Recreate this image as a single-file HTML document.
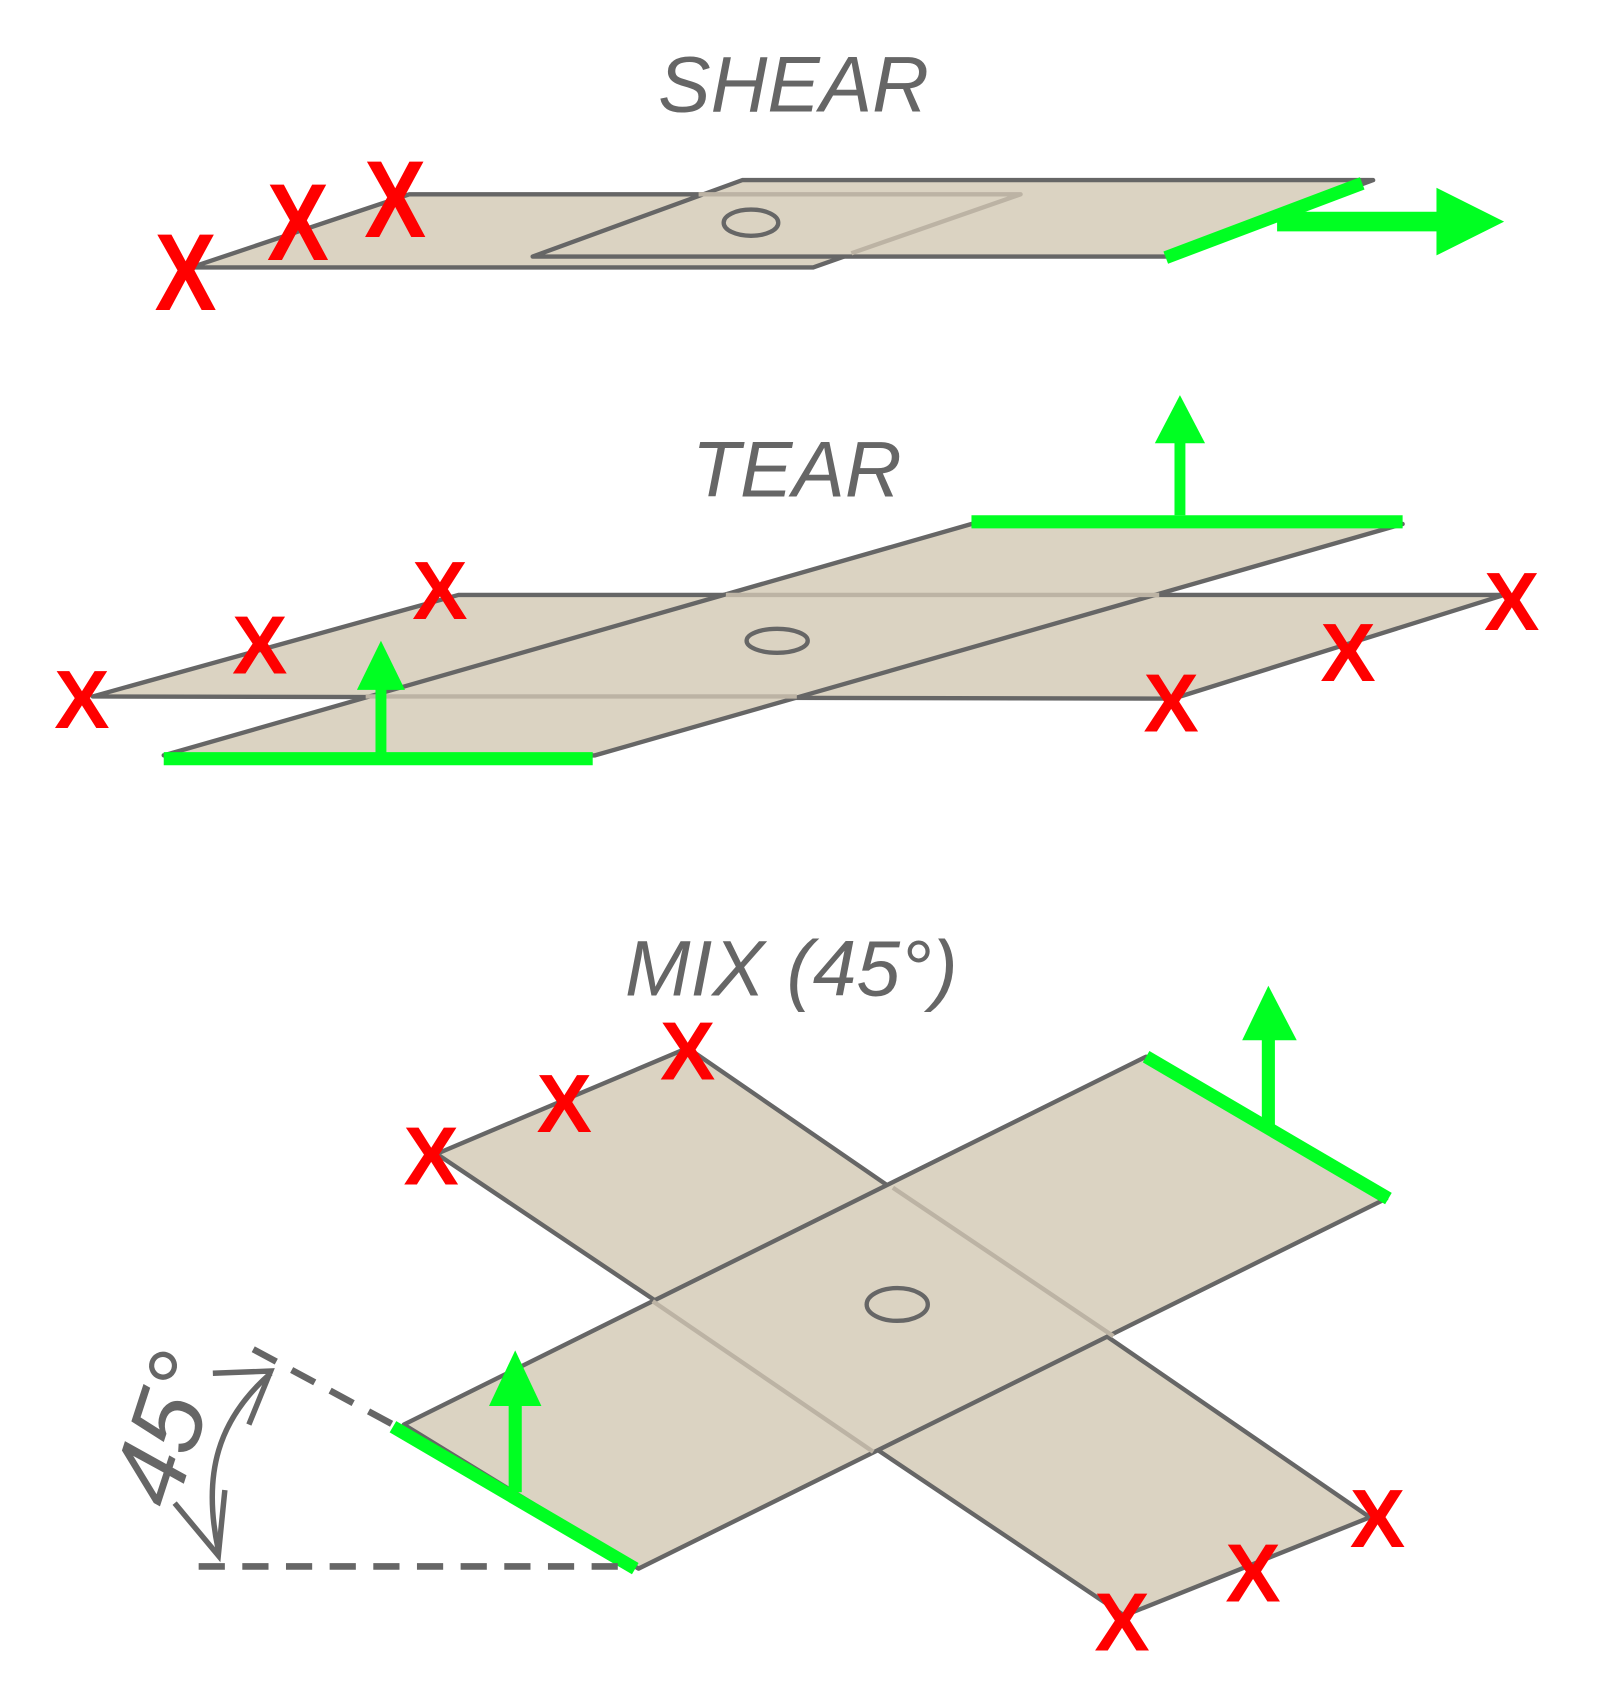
<!DOCTYPE html>
<html><head><meta charset="utf-8"><style>
html,body{margin:0;padding:0;background:#fff;}
svg{display:block;}
.t{font-family:"Liberation Sans",sans-serif;font-style:italic;fill:#666;}
.x{font-family:"Liberation Sans",sans-serif;font-weight:bold;fill:#f00;text-anchor:middle;}
.p{fill:#dbd3c2;stroke:#666;stroke-width:4;stroke-linejoin:round;}
.h{fill:none;stroke:#bcb3a4;stroke-width:4;stroke-linejoin:round;}
.g{stroke:#00ff22;stroke-width:12;fill:none;}
</style></head><body>
<svg width="1598" height="1704" viewBox="0 0 1464 1561" preserveAspectRatio="none">
<!-- SHEAR -->
<text class="t" x="727" y="102" font-size="72" text-anchor="middle">SHEAR</text>
<polygon class="p" points="175,245 375,178 935,178 745,245"/>
<polygon class="p" points="488,235 680,165 1258,165 1068,235"/>
<polyline class="h" points="640,178 935,178 780,232"/>
<ellipse cx="688" cy="204" rx="25" ry="12" fill="none" stroke="#666" stroke-width="4"/>
<line class="g" x1="1068" y1="236" x2="1248" y2="168"/>
<line x1="1170" y1="203" x2="1322" y2="203" stroke="#00ff22" stroke-width="18"/>
<polygon points="1316,172 1378,203 1316,234" fill="#00ff22"/>
<g transform="translate(170,284) scale(0.85,1)"><text class="x" font-size="100" x="0" y="0">X</text></g>
<g transform="translate(273,238) scale(0.85,1)"><text class="x" font-size="100" x="0" y="0">X</text></g>
<g transform="translate(362,217) scale(0.85,1)"><text class="x" font-size="100" x="0" y="0">X</text></g>
<!-- TEAR -->
<text class="t" x="730" y="455" font-size="72" text-anchor="middle">TEAR</text>
<polygon class="p" points="85,638 420,545 1378,545 1075,640"/>
<polygon class="p" points="150,692 890,480 1285,480 545,692"/>
<line class="h" x1="665" y1="545" x2="1062" y2="545"/>
<line class="h" x1="335" y1="638" x2="730" y2="638"/>
<ellipse cx="712" cy="587" rx="28" ry="11" fill="none" stroke="#666" stroke-width="4"/>
<line class="g" x1="890" y1="478" x2="1285" y2="478"/>
<line class="g" x1="150" y1="695" x2="543" y2="695"/>
<line x1="1081" y1="472" x2="1081" y2="400" stroke="#00ff22" stroke-width="10"/>
<polygon points="1058,406 1081,362 1104,406" fill="#00ff22"/>
<line x1="349" y1="692" x2="349" y2="625" stroke="#00ff22" stroke-width="10"/>
<polygon points="327,632 349,587 371,632" fill="#00ff22"/>
<g font-size="76">
<text class="x" x="75" y="667">X</text>
<text class="x" x="238" y="617">X</text>
<text class="x" x="403" y="567">X</text>
<text class="x" x="1073" y="670">X</text>
<text class="x" x="1235" y="624">X</text>
<text class="x" x="1385" y="577">X</text>
</g>
<!-- MIX -->
<text class="t" x="725" y="912" font-size="72" text-anchor="middle">MIX (45°)</text>
<polygon class="p" points="400,1057 630,960 1255,1390 1030,1480"/>
<polygon class="p" points="370,1305 1050,968 1270,1098 585,1437"/>
<line class="h" x1="818" y1="1088" x2="1020" y2="1224"/>
<line class="h" x1="598" y1="1192" x2="800" y2="1330"/>
<ellipse cx="822" cy="1195" rx="28" ry="15" fill="none" stroke="#666" stroke-width="4"/>
<line class="g" x1="360" y1="1307" x2="582" y2="1437"/>
<line class="g" x1="1050" y1="968" x2="1272" y2="1098"/>
<line x1="1162" y1="1032" x2="1162" y2="945" stroke="#00ff22" stroke-width="12"/>
<polygon points="1138,953 1162,903 1188,953" fill="#00ff22"/>
<line x1="472" y1="1367" x2="472" y2="1280" stroke="#00ff22" stroke-width="12"/>
<polygon points="448,1288 472,1237 496,1288" fill="#00ff22"/>
<line x1="182" y1="1435" x2="575" y2="1435" stroke="#666" stroke-width="6" stroke-dasharray="24,16"/>
<line x1="232" y1="1236" x2="360" y2="1305" stroke="#666" stroke-width="6" stroke-dasharray="24,16"/>
<path d="M200,1420 C185,1350 200,1300 248,1258" fill="none" stroke="#666" stroke-width="5"/>
<polyline points="195,1258 248,1256 228,1305" fill="none" stroke="#666" stroke-width="5"/>
<polyline points="160,1377 200,1425 206,1365" fill="none" stroke="#666" stroke-width="5"/>
<text class="t" font-style="normal" font-size="92" transform="translate(160,1385) rotate(-72)">45°</text>
<g font-size="76">
<text class="x" x="395" y="1085">X</text>
<text class="x" x="517" y="1037">X</text>
<text class="x" x="630" y="989">X</text>
<text class="x" x="1028" y="1512">X</text>
<text class="x" x="1148" y="1467">X</text>
<text class="x" x="1262" y="1417">X</text>
</g>
</svg>
</body></html>
